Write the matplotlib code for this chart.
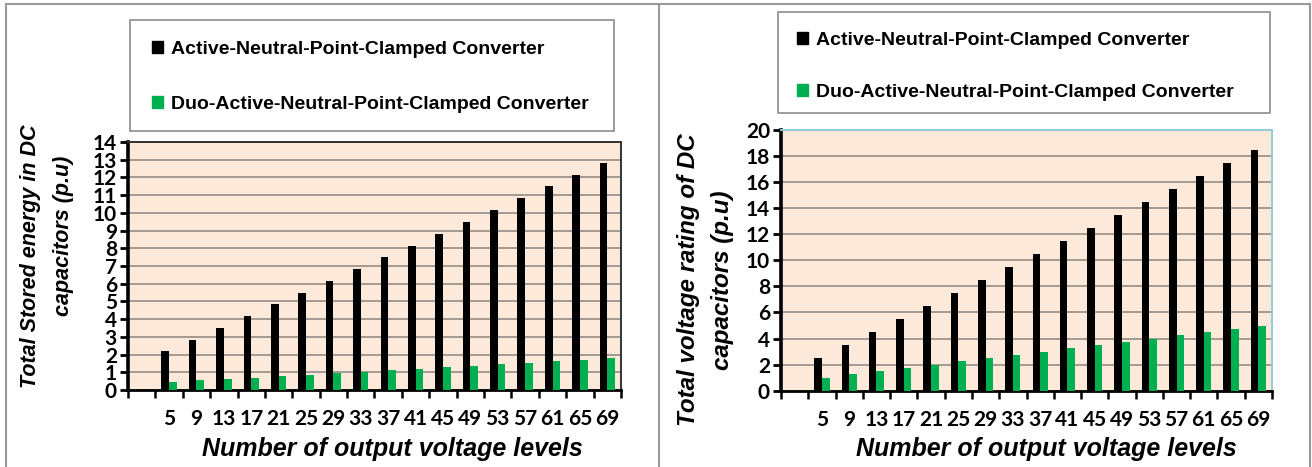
import matplotlib
matplotlib.use("Agg")
import matplotlib.pyplot as plt
from matplotlib.patches import Rectangle, Patch
from matplotlib.lines import Line2D

# Output voltage levels (first category slot is left empty)
levels = ["5", "9", "13", "17", "21", "25", "29", "33", "37", "41",
          "45", "49", "53", "57", "61", "65", "69"]

# Total stored energy in DC capacitors (p.u)
energy_anpc = [2.22, 2.84, 3.50, 4.16, 4.83, 5.49, 6.15, 6.83, 7.49, 8.15,
               8.82, 9.50, 10.16, 10.84, 11.50, 12.16, 12.83]
energy_danpc = [0.47, 0.54, 0.62, 0.69, 0.77, 0.86, 0.96, 1.03, 1.11, 1.20,
                1.28, 1.37, 1.45, 1.54, 1.61, 1.71, 1.78]

# Total voltage rating of DC capacitors (p.u)
voltage_anpc = [2.5, 3.5, 4.5, 5.5, 6.5, 7.5, 8.5, 9.5, 10.5, 11.5,
                12.5, 13.5, 14.5, 15.5, 16.5, 17.5, 18.5]
voltage_danpc = [1.0, 1.25, 1.5, 1.75, 2.0, 2.25, 2.5, 2.75, 3.0, 3.25,
                 3.5, 3.75, 4.0, 4.25, 4.5, 4.75, 5.0]

label_anpc = "Active-Neutral-Point-Clamped Converter"
label_danpc = "Duo-Active-Neutral-Point-Clamped Converter"

BLACK = "#000000"
GREEN = "#00B050"
PEACH = "#FDE9D9"
GRID = "#8a8580"

W, H = 1312, 467
fig = plt.figure(figsize=(W / 100, H / 100), dpi=100)
fig.patch.set_facecolor("white")


def fx(px):
    return px / W


def fy(py):
    return 1 - py / H


tick_font = dict(family="Lato", weight="bold", size=15)
title_font = dict(family="Liberation Sans", weight="bold", style="italic")


def draw_panel(rect, anpc, danpc, ymax, ystep, top_right_color):
    ax = fig.add_axes(rect)
    ax.set_facecolor(PEACH)
    pos = list(range(1, len(levels) + 1))
    w = 0.28
    ax.bar([p - w / 2 for p in pos], anpc, width=w, color=BLACK, zorder=3)
    ax.bar([p + w / 2 for p in pos], danpc, width=w, color=GREEN, zorder=3)
    ax.set_xlim(-0.5, len(levels) + 0.5)
    ax.set_ylim(0, ymax)
    ax.set_yticks(range(0, ymax + 1, ystep))
    ax.yaxis.grid(True, color=GRID, lw=1.1, zorder=1)
    ax.set_axisbelow(True)
    # category boundaries carry the tick marks, labels sit at centres
    ax.set_xticks([i - 0.5 for i in range(len(levels) + 2)])
    ax.set_xticklabels([])
    ax.set_xticks(pos, minor=True)
    ax.set_xticklabels(levels, minor=True, fontdict=tick_font)
    ax.tick_params(axis="x", which="major", direction="out", length=6, width=1.8)
    ax.tick_params(axis="x", which="minor", length=0, pad=14)
    ax.tick_params(axis="y", direction="out", length=6, width=2, pad=2)
    for t in ax.get_yticklabels():
        t.set_fontproperties(matplotlib.font_manager.FontProperties(**tick_font))
    ax.spines["left"].set_linewidth(2.6)
    ax.spines["bottom"].set_linewidth(2.0)
    for s in ("top", "right"):
        ax.spines[s].set_color(top_right_color)
        ax.spines[s].set_linewidth(1.4)
    return ax


ax1 = draw_panel([fx(128), fy(390), fx(621) - fx(128), fy(142) - fy(390)],
                 energy_anpc, energy_danpc, 14, 1, "#333333")
ax2 = draw_panel([fx(781), fy(390.7), fx(1272) - fx(781), fy(130) - fy(390.7)],
                 voltage_anpc, voltage_danpc, 20, 2, "#92CDDC")

# axis titles
fig.text(fx(31), fy(256), "Total Stored energy in DC", rotation=90,
         ha="center", va="center", size=15.5, **title_font)
fig.text(fx(63), fy(236), "capacitors (p.u)", rotation=90,
         ha="center", va="center", size=15.5, **title_font)
fig.text(fx(392), fy(449), "Number of output voltage levels",
         ha="center", va="center", size=18, **title_font)

fig.text(fx(689), fy(280), "Total voltage rating of DC", rotation=90,
         ha="center", va="center", size=17.4, **title_font)
fig.text(fx(722), fy(280), "capacitors (p.u)", rotation=90,
         ha="center", va="center", size=17.4, **title_font)
fig.text(fx(1046), fy(449), "Number of output voltage levels",
         ha="center", va="center", size=18, **title_font)

# panel outlines
for xs, ys in [([6, 6], [H, 4]), ([6, 1310], [4, 4]), ([659, 659], [4, H]),
               ([1310, 1310], [4, H])]:
    fig.add_artist(Line2D([fx(x) for x in xs], [fy(y) for y in ys],
                          color="#999999", lw=1.5))

# legend boxes
handles = [Patch(facecolor=BLACK, edgecolor=BLACK),
           Patch(facecolor=GREEN, edgecolor=GREEN)]
for (x0, y0, x1, y1), anchor, spacing in [((130, 20, 614, 131), (152, 41), 1.95),
                                          ((778, 12, 1270, 113), (797, 32), 1.8)]:
    fig.add_artist(Rectangle((fx(x0), fy(y1)), fx(x1) - fx(x0), fy(y0) - fy(y1),
                             transform=fig.transFigure, fill=False,
                             edgecolor="#8c8c8c", lw=1.2))
    fig.legend(handles, [label_anpc, label_danpc], loc="upper left",
               bbox_to_anchor=(fx(anchor[0]), fy(anchor[1])),
               frameon=False, borderpad=0, borderaxespad=0,
               handlelength=0.55, handleheight=0.55, handletextpad=0.45,
               labelspacing=spacing,
               prop=dict(family="Liberation Sans", weight="bold", size=14))

fig.savefig("out.png", dpi=100)
